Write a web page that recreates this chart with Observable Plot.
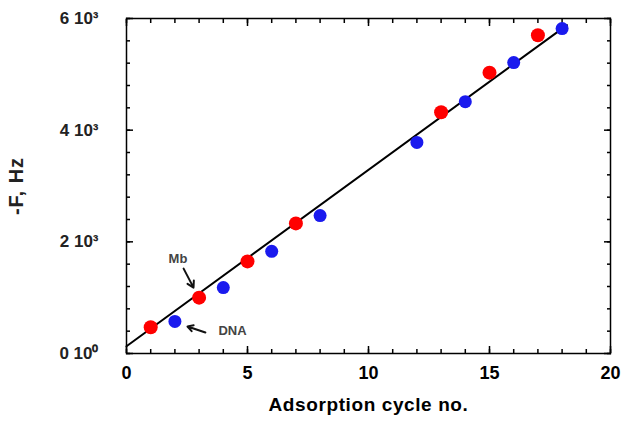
<!DOCTYPE html>
<html><head><meta charset="utf-8">
<script src="https://cdn.jsdelivr.net/npm/d3@7"></script>
<script src="https://cdn.jsdelivr.net/npm/@observablehq/plot@0.6"></script>
<style>body{margin:0;background:#fff}</style>
</head><body><div id="chart"></div>
<script>
const mbCycles = [1, 3, 5, 7, 13, 15, 17];
const mbValues = [470, 1000, 1650, 2330, 4320, 5030, 5700];
const dnaCycles = [2, 4, 6, 8, 12, 14, 16, 18];
const dnaValues = [575, 1180, 1830, 2470, 3780, 4510, 5210, 5820];
const fitIntercept = 130;
const fitSlope = 316;
const fitRange = [0, 18.2];
const xMajorTicks = [0, 5, 10, 15, 20];
const yMajorTicks = [0, 2000, 4000, 6000];
const yTickLabels = ["0 10\u2070", "2 10\u00b3", "4 10\u00b3", "6 10\u00b3"];
const annotations = [
  {label: "Mb", x: 1.74, y: 1700, x1: 2.36, y1: 1520, x2: 2.77, y2: 1180},
  {label: "DNA", x: 3.8, y: 410, x1: 3.26, y1: 376, x2: 2.52, y2: 484}
];

const mb = mbCycles.map((c, i) => ({c, v: mbValues[i]}));
const dna = dnaCycles.map((c, i) => ({c, v: dnaValues[i]}));
const fit = fitRange.map(c => ({c, v: fitIntercept + fitSlope * c}));
const xMinor = d3.range(0, 21);
const yMinor = d3.range(0, 6001, 400);

const chart = Plot.plot({
  width: 632, height: 426,
  marginLeft: 126, marginRight: 22, marginTop: 18, marginBottom: 73,
  style: {fontFamily: "Liberation Sans, Arial, sans-serif", fontSize: "16px", color: "#000", background: "#fff"},
  x: {domain: [0, 20]},
  y: {domain: [0, 6000]},
  marks: [
    Plot.frame({stroke: "#000", strokeWidth: 1.5}),
    Plot.axisX({anchor: "bottom", ticks: xMinor, tickSize: -4, text: null, strokeWidth: 1.5}),
    Plot.axisX({anchor: "top", ticks: xMinor, tickSize: -4, text: null, strokeWidth: 1.5}),
    Plot.axisY({anchor: "left", ticks: yMinor, tickSize: -4, text: null, strokeWidth: 1.5}),
    Plot.axisY({anchor: "right", ticks: yMinor, tickSize: -4, text: null, strokeWidth: 1.5}),
    Plot.axisX({anchor: "bottom", ticks: xMajorTicks, tickSize: -7, text: null, strokeWidth: 1.5}),
    Plot.axisX({anchor: "top", ticks: xMajorTicks, tickSize: -7, text: null, strokeWidth: 1.5}),
    Plot.axisY({anchor: "left", ticks: yMajorTicks, tickSize: -7, text: null, strokeWidth: 1.5}),
    Plot.axisY({anchor: "right", ticks: yMajorTicks, tickSize: -7, text: null, strokeWidth: 1.5}),
    Plot.axisX({anchor: "bottom", ticks: xMajorTicks, tickSize: 0, tickPadding: 13, fontWeight: "bold", fontSize: 18,
      label: "Adsorption cycle no.", labelAnchor: "center", labelArrow: "none", labelOffset: 57}),
    Plot.axisY({anchor: "left", ticks: yMajorTicks, tickSize: 0, tickPadding: 28, fontSize: 17, fontWeight: "bold", fill: "#222",
      tickFormat: d => yTickLabels[yMajorTicks.indexOf(d)],
      label: "-F, Hz", labelAnchor: "center", labelArrow: "none", labelOffset: 118}),
    Plot.line(fit, {x: "c", y: "v", stroke: "#000", strokeWidth: 2}),
    Plot.dot(mb, {x: "c", y: "v", r: 7, fill: "#f00", stroke: "none"}),
    Plot.dot(dna, {x: "c", y: "v", r: 6.5, fill: "#1a1aee", stroke: "none"}),
    Plot.arrow(annotations, {x1: "x1", y1: "y1", x2: "x2", y2: "y2", stroke: "#111", strokeWidth: 2, headLength: 7}),
    Plot.text(annotations, {x: "x", y: "y", text: "label", fontSize: 13, fontWeight: "bold", fill: "#444", textAnchor: "start"})
  ]
});
document.getElementById("chart").append(chart);
chart.querySelectorAll("g[aria-label='y-axis label'] text").forEach(t => {
  t.setAttribute("font-weight", "bold"); t.setAttribute("font-size", "20"); t.setAttribute("letter-spacing", "1");
});
chart.querySelectorAll("g[aria-label='x-axis label'] text").forEach(t => {
  t.setAttribute("font-weight", "bold"); t.setAttribute("font-size", "19"); t.setAttribute("letter-spacing", "0.6");
});
</script>
</body></html>
